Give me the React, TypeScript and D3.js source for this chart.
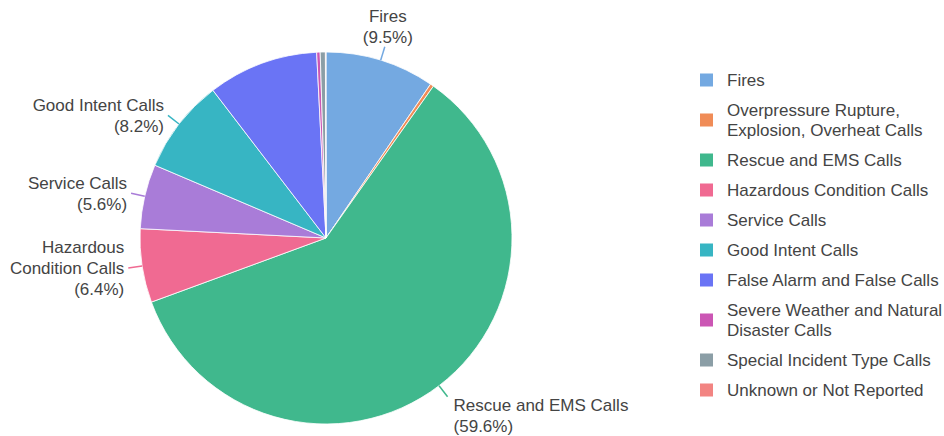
import * as d3 from "d3";
import { useEffect, useRef } from "react";

const categories = [
  "Fires",
  "Overpressure Rupture, Explosion, Overheat Calls",
  "Rescue and EMS Calls",
  "Hazardous Condition Calls",
  "Service Calls",
  "Good Intent Calls",
  "False Alarm and False Calls",
  "Severe Weather and Natural Disaster Calls",
  "Special Incident Type Calls",
  "Unknown or Not Reported",
];

// percent of all calls
const shares = [9.5, 0.3, 59.6, 6.4, 5.6, 8.2, 9.6, 0.3, 0.45, 0.05];

const colors = [
  "#74a9e1",
  "#f08c57",
  "#40b88d",
  "#f06a92",
  "#a97cd8",
  "#37b5c3",
  "#6a74f5",
  "#cb56b4",
  "#8b9ea6",
  "#f28482",
];

// legend wraps long names on two lines
const legendLines = [
  ["Fires"],
  ["Overpressure Rupture,", "Explosion, Overheat Calls"],
  ["Rescue and EMS Calls"],
  ["Hazardous Condition Calls"],
  ["Service Calls"],
  ["Good Intent Calls"],
  ["False Alarm and False Calls"],
  ["Severe Weather and Natural", "Disaster Calls"],
  ["Special Incident Type Calls"],
  ["Unknown or Not Reported"],
];

// outside labels shown on the pie (null = no label)
const sliceLabels: (string[] | null)[] = [
  ["Fires"],
  null,
  ["Rescue and EMS Calls"],
  ["Hazardous", "Condition Calls"],
  ["Service Calls"],
  ["Good Intent Calls"],
  null,
  null,
  null,
  null,
];

type Slice = { name: string; value: number; color: string; label: string[] | null };

const App = () => {
  const ref = useRef<SVGSVGElement | null>(null);
  const width = 944;
  const height = 436;

  useEffect(() => {
    document.body.style.margin = "0";
    if (!ref.current) return;

    const dataset: Slice[] = categories.map((name, i) => ({
      name,
      value: shares[i],
      color: colors[i],
      label: sliceLabels[i],
    }));

    const cx = 326;
    const cy = 238;
    const radius = 186;
    const font = "'Liberation Sans', Arial, sans-serif";
    const textColor = "#444";
    const lineH = 21;

    const pie = d3.pie<Slice>().value((d) => d.value).sort(null);
    const arc = d3.arc<d3.PieArcDatum<Slice>>().innerRadius(0).outerRadius(radius);

    const svg = d3.select(ref.current);
    svg.selectAll("*").remove();

    const g = svg.append("g").attr("transform", `translate(${cx},${cy})`);
    const arcs = pie(dataset);

    g.selectAll("path")
      .data(arcs)
      .join("path")
      .attr("d", arc)
      .attr("fill", (d) => d.data.color)
      .attr("stroke", "white")
      .attr("stroke-width", 0.8);

    const labelled = arcs.filter((d) => d.data.label);
    const pt = (a: number, r: number) => [r * Math.sin(a), -r * Math.cos(a)];

    labelled.forEach((d) => {
      const mid = (d.startAngle + d.endAngle) / 2;
      const [x0, y0] = pt(mid, radius);
      const [x1, y1] = pt(mid, radius + 14);
      g.append("line")
        .attr("x1", x0)
        .attr("y1", y0)
        .attr("x2", x1)
        .attr("y2", y1)
        .attr("stroke", d.data.color)
        .attr("stroke-width", 1.5);

      const lines = [...d.data.label!, `(${d.data.value.toFixed(1)}%)`];
      const t = g
        .append("text")
        .attr("font-family", font)
        .attr("font-size", 17)
        .attr("fill", textColor);

      let tx = x1;
      let firstBase = 0;
      const deg = (mid * 180) / Math.PI;
      if (deg < 40) {
        // above the pie
        t.attr("text-anchor", "middle");
        tx = x1 + 3;
        firstBase = y1 - 4 - (lines.length - 1) * lineH;
      } else if (deg < 180) {
        // lower right
        t.attr("text-anchor", "start");
        tx = x1 + 6;
        firstBase = y1 + 14.5;
      } else {
        // left side, centred on leader end
        t.attr("text-anchor", "end");
        tx = x1 - 4;
        firstBase = y1 + 6 - ((lines.length - 1) / 2) * lineH;
      }
      lines.forEach((s, i) => {
        t.append("tspan")
          .attr("x", tx)
          .attr("y", firstBase + i * lineH)
          .text(s);
      });
    });

    // legend
    const legend = svg.append("g");
    let y = 80;
    legendLines.forEach((lines, i) => {
      const h = lines.length === 1 ? 30 : 50;
      if (i > 0) y += h / 2;
      legend
        .append("rect")
        .attr("x", 700)
        .attr("y", y - 6.5)
        .attr("width", 13)
        .attr("height", 13)
        .attr("fill", colors[i]);
      const t = legend
        .append("text")
        .attr("font-family", font)
        .attr("font-size", 17)
        .attr("fill", textColor);
      lines.forEach((s, j) => {
        t.append("tspan")
          .attr("x", 727)
          .attr("y", y + 6 + (j - (lines.length - 1) / 2) * 20.5)
          .text(s);
      });
      y += h / 2;
    });
  }, []);

  return <svg ref={ref} width={width} height={height} style={{ display: "block" }} />;
};

export default App;
